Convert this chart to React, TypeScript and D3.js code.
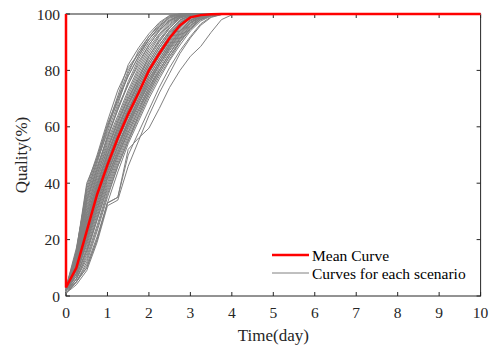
import React from 'react';
import * as d3 from 'd3';

// sample times (days) shared by every curve, then the flat tail to day 10
const TIMES = [0, 0.25, 0.5, 0.75, 1, 1.25, 1.5, 1.75, 2, 2.25, 2.5, 2.75, 3, 3.25, 3.5, 3.75, 4];
const TAIL_TIME = 10;
const TAIL_VALUE = 100;

// red mean curve: it starts with a jump from 100 at day 0
const MEAN_TIMES = [0, 0, 0.25, 0.5, 0.75, 1, 1.25, 1.5, 1.75, 2, 2.25, 2.5, 2.75, 3, 3.25, 3.5, 3.75, 4, 10];
const MEAN_VALUES = [100, 3, 10, 23, 36, 46.5, 56, 64.5, 72, 80, 86, 91.5, 96, 98.8, 99.6, 99.9, 100, 100, 100];

// one row per scenario, values at TIMES
const SCENARIOS = [
  [2, 16, 40, 49, 60, 71, 82, 88, 93, 97, 99.5, 100, 100, 100, 100, 100, 100],
  [2, 15, 39, 50, 62, 73, 81, 86, 91, 95.5, 99, 100, 100, 100, 100, 100, 100],
  [3, 16, 38, 49, 61, 70, 80, 86, 92, 96.5, 99.3, 100, 100, 100, 100, 100, 100],
  [3, 17, 37, 48, 58, 68, 79, 87, 92, 96, 98.8, 99.8, 100, 100, 100, 100, 100],
  [2, 15, 36, 48, 60, 69, 78, 85, 91, 95.5, 98.5, 99.7, 100, 100, 100, 100, 100],
  [2, 14, 35, 47, 59, 70, 78, 85, 91, 95, 98, 99.6, 100, 100, 100, 100, 100],
  [3, 15, 34, 46, 56, 66, 76, 84, 90, 94.5, 97.5, 99.5, 100, 100, 100, 100, 100],
  [2, 14, 34, 45, 57, 66, 75, 83, 89, 94, 97.7, 99.5, 100, 100, 100, 100, 100],
  [2, 13, 33, 45, 56, 67, 75, 82, 89, 94, 97.5, 99.4, 100, 100, 100, 100, 100],
  [3, 14, 32, 44, 55, 64, 73, 81, 88, 93, 97, 99.2, 99.9, 100, 100, 100, 100],
  [2, 13, 31, 43, 54, 63, 72, 80, 87, 92.5, 96.5, 99, 99.9, 100, 100, 100, 100],
  [3, 13, 30, 43, 53, 62, 71, 79, 86, 92, 96, 99, 99.9, 100, 100, 100, 100],
  [2, 12, 29, 42, 52, 62, 70, 78, 85, 91, 95.5, 98.8, 99.8, 100, 100, 100, 100],
  [3, 12, 29, 41, 52, 61, 70, 77, 85, 90.5, 95, 98.6, 99.8, 100, 100, 100, 100],
  [3, 12, 28, 40, 51, 60, 69, 77, 84, 90, 95, 98.5, 99.7, 100, 100, 100, 100],
  [2, 11, 27, 40, 50, 60, 68, 76, 83, 89, 94, 98, 99.6, 100, 100, 100, 100],
  [2, 12, 27, 39, 50, 59, 68, 76, 83, 89, 94, 97.8, 99.6, 100, 100, 100, 100],
  [3, 12, 26, 39, 50, 59, 68, 75, 82, 88, 93.5, 97.5, 99.5, 100, 100, 100, 100],
  [2, 11, 26, 38, 49, 58, 67, 75, 82, 88, 93, 97, 99.3, 99.9, 100, 100, 100],
  [3, 11, 25, 38, 48, 58, 66, 74, 81, 87, 92.5, 97, 99.2, 99.9, 100, 100, 100],
  [2, 11, 25, 37, 48, 57, 66, 74, 81, 87, 92, 96.8, 99.1, 99.9, 100, 100, 100],
  [2, 10, 24, 37, 48, 57, 66, 73, 80, 86, 92, 96.5, 99, 99.8, 100, 100, 100],
  [3, 10, 24, 36, 47, 56, 65, 73, 80, 86, 91.5, 96, 99, 99.8, 100, 100, 100],
  [2, 10, 23, 36, 46, 56, 64, 72, 79, 85, 91, 95.5, 98.6, 99.7, 100, 100, 100],
  [2, 10, 23, 35, 46, 55, 64, 72, 79, 85, 90.5, 95.5, 98.6, 99.7, 100, 100, 100],
  [3, 9, 22, 35, 45, 55, 63, 71, 78, 84, 90, 95, 98.5, 99.6, 100, 100, 100],
  [2, 9, 21, 34, 45, 54, 62, 70, 78, 84, 89.5, 94.5, 98, 99.5, 100, 100, 100],
  [3, 9, 21, 33, 44, 53, 62, 70, 77, 83, 89, 94, 97.8, 99.4, 99.9, 100, 100],
  [2, 9, 20, 33, 44, 53, 62, 69, 77, 83, 89, 94, 97.6, 99.4, 99.9, 100, 100],
  [2, 8, 20, 32, 43, 53, 61, 69, 76, 83, 88.5, 93.5, 97.5, 99.3, 99.9, 100, 100],
  [3, 8, 19, 31, 42, 52, 61, 68, 76, 82, 88, 93, 97, 99.2, 99.8, 100, 100],
  [2, 8, 19, 31, 42, 51, 60, 68, 75, 82, 88, 93, 97, 99.1, 99.8, 100, 100],
  [2, 8, 18, 30, 42, 51, 60, 68, 75, 82, 87.5, 92.5, 96.8, 99, 99.8, 100, 100],
  [2, 7, 17, 29, 41, 50, 59, 67, 74, 81, 87, 92, 96.5, 98.9, 99.7, 100, 100],
  [3, 7, 16, 28, 40, 50, 58, 66, 74, 80, 86, 91.5, 96, 98.7, 99.7, 100, 100],
  [2, 7, 16, 27, 39, 49, 58, 66, 73, 80, 86, 91.5, 95.8, 98.6, 99.6, 100, 100],
  [2, 6, 15, 27, 38, 48, 57, 65, 73, 80, 86, 91, 95.5, 98.5, 99.6, 100, 100],
  [2, 6, 14, 25, 37, 47, 56, 64, 72, 79, 85, 90.5, 95, 98.2, 99.5, 100, 100],
  [1, 6, 13, 24, 36, 46, 55, 64, 72, 79, 85, 90, 95, 98, 99.5, 100, 100],
  [1, 5, 12, 23, 35, 46, 55, 63, 71, 78, 84, 90, 94.5, 98, 99.4, 100, 100],
  [2, 5, 11, 21, 33, 44, 54, 62, 70, 77, 83.5, 89, 94, 97.5, 99.3, 100, 100],
  [1, 5, 10, 20, 33, 35, 50, 58, 66, 74, 81, 87, 92, 96.5, 99, 99.8, 100],
  [1, 4, 9, 19, 32, 34, 46, 55, 64, 72, 79, 86, 91.5, 96, 98.8, 99.8, 100],
  [1, 5, 10, 20, 33, 35, 52, 56, 59.5, 66.5, 74, 80, 85, 88.5, 93.5, 98, 99.7],
];

const X_TICKS = [0, 1, 2, 3, 4, 5, 6, 7, 8, 9, 10];
const Y_TICKS = [0, 20, 40, 60, 80, 100];

const WIDTH = 490;
const HEIGHT = 346;
const margin = { top: 14, right: 9.4, bottom: 50, left: 66 };
const FONT = '"Liberation Serif", "Times New Roman", serif';

export default function App() {
  const x = d3.scaleLinear().domain([0, 10]).range([margin.left, WIDTH - margin.right]);
  const y = d3.scaleLinear().domain([0, 100]).range([HEIGHT - margin.bottom, margin.top]);

  const line = d3.line<[number, number]>()
    .x(d => x(d[0]))
    .y(d => y(d[1]));

  const scenarioPaths = SCENARIOS.map(vals => {
    const pts: [number, number][] = vals.map((v, i) => [TIMES[i], v]);
    pts.push([TAIL_TIME, TAIL_VALUE]);
    return line(pts);
  });
  const meanPath = line(MEAN_VALUES.map((v, i) => [MEAN_TIMES[i], v] as [number, number]));

  const x0 = x(0), x1 = x(10), yb = y(0), yt = y(100);
  const axisColor = '#262626';
  const tick = 4;

  // legend position
  const lgX = 272, lgY = 255;

  return (
    <svg width={WIDTH} height={HEIGHT} style={{ position: 'absolute', left: 0, top: 0, background: '#fff' }}>
      {/* box */}
      <rect x={x0} y={yt} width={x1 - x0} height={yb - yt} fill="none" stroke={axisColor} strokeWidth={1} />
      {X_TICKS.map(t => (
        <g key={'x' + t}>
          <line x1={x(t)} x2={x(t)} y1={yb} y2={yb - tick} stroke={axisColor} />
          <line x1={x(t)} x2={x(t)} y1={yt} y2={yt + tick} stroke={axisColor} />
          <text x={x(t)} y={yb + 22} textAnchor="middle" fontFamily={FONT} fontSize={15.5} fill={axisColor}>{t}</text>
        </g>
      ))}
      {Y_TICKS.map(t => (
        <g key={'y' + t}>
          <line x1={x0} x2={x0 + tick} y1={y(t)} y2={y(t)} stroke={axisColor} />
          <line x1={x1} x2={x1 - tick} y1={y(t)} y2={y(t)} stroke={axisColor} />
          <text x={x0 - 6} y={y(t) + 5.5} textAnchor="end" fontFamily={FONT} fontSize={15.5} fill={axisColor}>{t}</text>
        </g>
      ))}
      <text x={x(5)} y={HEIGHT - 5} textAnchor="middle" fontFamily={FONT} fontSize={17} fill={axisColor}>Time(day)</text>
      <text transform={`translate(27, ${(yb + yt) / 2}) rotate(-90)`} textAnchor="middle" fontFamily={FONT} fontSize={17} fill={axisColor}>Quality(%)</text>

      {scenarioPaths.map((p, i) => (
        <path key={i} d={p || ''} fill="none" stroke="#808080" strokeWidth={1} />
      ))}
      <path d={meanPath || ''} fill="none" stroke="#ff0000" strokeWidth={2.5} />

      {/* legend */}
      <line x1={lgX} x2={lgX + 37} y1={lgY} y2={lgY} stroke="#ff0000" strokeWidth={2.5} />
      <text x={lgX + 40} y={lgY + 5.5} fontFamily={FONT} fontSize={15.5} fill="#000">Mean Curve</text>
      <line x1={lgX} x2={lgX + 37} y1={lgY + 18} y2={lgY + 18} stroke="#808080" strokeWidth={1} />
      <text x={lgX + 40} y={lgY + 23.5} fontFamily={FONT} fontSize={15.5} fill="#000">Curves for each scenario</text>
    </svg>
  );
}
